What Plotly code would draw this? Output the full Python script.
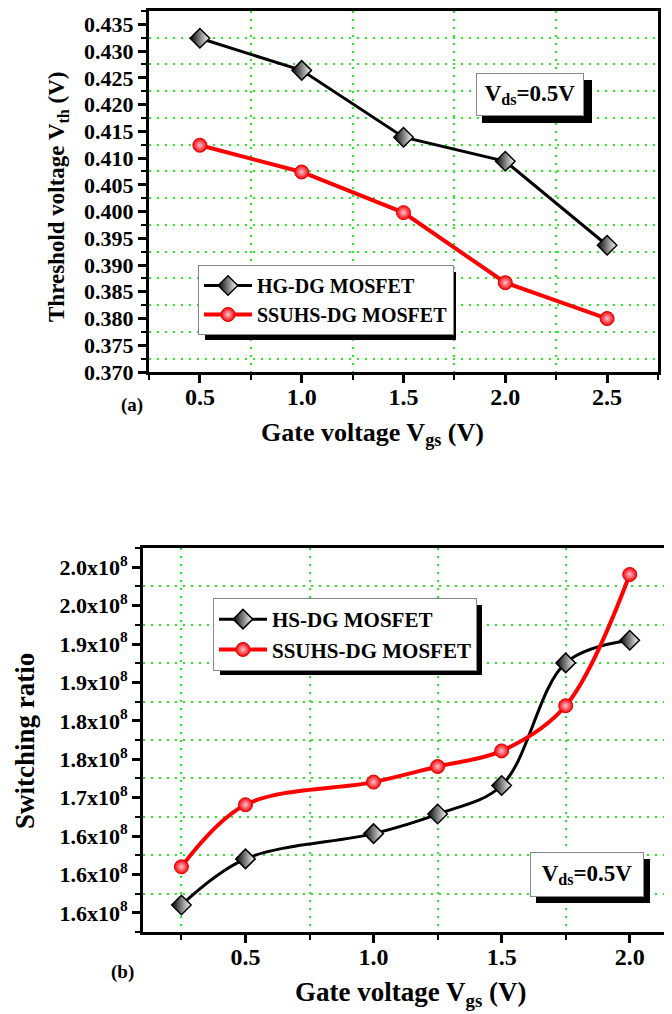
import plotly.graph_objects as go

# ---------------- data ----------------
vgs_a = [0.5, 1.0, 1.5, 2.0, 2.5]
vth_hg = [0.4324, 0.4264, 0.4139, 0.4094, 0.3937]
vth_ssuhs = [0.4124, 0.4074, 0.3998, 0.3867, 0.3800]

vgs_b = [0.25, 0.5, 1.0, 1.25, 1.5, 1.75, 2.0]
sr_hs = [1.5601e8, 1.6202e8, 1.6531e8, 1.6786e8, 1.7158e8, 1.8754e8, 1.9048e8]
sr_ssuhs = [1.6099e8, 1.6907e8, 1.7202e8, 1.7405e8, 1.7608e8, 1.8196e8, 1.9905e8]

yb_tickvals = [1.55e8, 1.60e8, 1.65e8, 1.70e8, 1.75e8, 1.80e8, 1.85e8, 1.90e8, 1.95e8, 2.00e8]
yb_ticktext = ["1.6x10<sup>8</sup>", "1.6x10<sup>8</sup>", "1.6x10<sup>8</sup>", "1.7x10<sup>8</sup>",
               "1.8x10<sup>8</sup>", "1.8x10<sup>8</sup>", "1.9x10<sup>8</sup>", "1.9x10<sup>8</sup>",
               "2.0x10<sup>8</sup>", "2.0x10<sup>8</sup>"]

# page body has an 8px default margin: the figure fills the rest of the window
PAGE_W, PAGE_H, OFF = 672, 1014, 8
W, H = PAGE_W - OFF, PAGE_H - OFF
FONT = "Liberation Serif"


def px(x):
    return (x - OFF) / W


def py(y):
    return 1 - (y - OFF) / H


def fnt(size):
    return dict(size=size, family=FONT, weight="bold", color="black")


diamond = dict(symbol="diamond", size=15, color="black",
               gradient=dict(type="horizontal", color="white"),
               line=dict(color="black", width=1.5))
ball = dict(symbol="circle", size=14, color="red",
            gradient=dict(type="radial", color="#f4c4d4"),
            line=dict(color="#e00000", width=1))

fig = go.Figure()
fig.add_trace(go.Scatter(x=vgs_a, y=vth_hg, name="HG-DG MOSFET", mode="lines+markers",
                         line=dict(color="black", width=3), marker=diamond,
                         xaxis="x", yaxis="y", legend="legend"))
fig.add_trace(go.Scatter(x=vgs_a, y=vth_ssuhs, name="SSUHS-DG MOSFET", mode="lines+markers",
                         line=dict(color="red", width=4), marker=ball,
                         xaxis="x", yaxis="y", legend="legend"))
fig.add_trace(go.Scatter(x=vgs_b, y=sr_hs, name="HS-DG MOSFET", mode="lines+markers",
                         line=dict(color="black", width=3, shape="spline", smoothing=1.0),
                         marker=diamond, xaxis="x2", yaxis="y2", legend="legend2"))
fig.add_trace(go.Scatter(x=vgs_b, y=sr_ssuhs, name="SSUHS-DG MOSFET", mode="lines+markers",
                         line=dict(color="red", width=4, shape="spline", smoothing=1.0),
                         marker=ball, xaxis="x2", yaxis="y2", legend="legend2"))

grid = dict(showgrid=True, gridcolor="#22ee22", griddash="2px,6px", gridwidth=2,
            ticks="outside", ticklen=5, tickwidth=2, tickcolor="black")
common = dict(showline=True, linewidth=3, linecolor="black", ticks="outside", ticklen=8,
              tickwidth=3, tickcolor="black", showgrid=False, zeroline=False, automargin=False)

fig.update_layout(
    width=W, height=H, template="none",
    margin=dict(l=0, r=0, t=0, b=0),
    paper_bgcolor="white", plot_bgcolor="white",
    font=dict(family=FONT, color="black", weight="bold"),
    xaxis=dict(domain=[px(149), px(658)], range=[0.25, 2.75], anchor="y", mirror=True,
               tickmode="linear", tick0=0.5, dtick=0.5, tickformat=".1f", tickfont=fnt(24),
               ticklabelstandoff=-7,
               minor=dict(tickmode="linear", tick0=0.25, dtick=0.5, **grid), **common),
    yaxis=dict(domain=[py(372), py(11)], range=[0.370, 0.4375], anchor="x", mirror=True,
               tickmode="linear", tick0=0.370, dtick=0.005, tickformat=".3f", tickfont=fnt(22),
               minor=dict(tickmode="linear", tick0=0.3725, dtick=0.005, **grid), **common),
    xaxis2=dict(domain=[px(143), 1.0], range=[0.1, 2.165], anchor="y2", mirror=True,
                tickmode="linear", tick0=0.5, dtick=0.5, tickformat=".1f", tickfont=fnt(24),
                ticklabelstandoff=-7,
                minor=dict(tickmode="linear", tick0=0.25, dtick=0.5, **grid), **common),
    yaxis2=dict(domain=[py(932), py(548)], range=[1.525e8, 2.025e8], anchor="x2", mirror=False,
                tickmode="array", tickvals=yb_tickvals, ticktext=yb_ticktext, tickfont=fnt(22),
                minor=dict(tickmode="linear", tick0=1.525e8, dtick=0.05e8, **grid), **common),
    legend=dict(x=px(198), y=py(265), xanchor="left", yanchor="top", bgcolor="white",
                bordercolor="#888888", borderwidth=1, itemwidth=48, tracegroupgap=0,
                font=fnt(20)),
    legend2=dict(x=px(213), y=py(598), xanchor="left", yanchor="top", bgcolor="white",
                 bordercolor="#888888", borderwidth=1, itemwidth=48, tracegroupgap=0,
                 font=fnt(21)),
    showlegend=True,
)

# drop shadows behind legends and text boxes
shadows = [(205, 272, 456, 340), (220, 605, 482, 675), (482, 80, 592, 123), (536, 859, 650, 903)]
for (x0, y0, x1, y1) in shadows:
    fig.add_shape(type="rect", xref="paper", yref="paper", x0=px(x0), x1=px(x1), y0=py(y1), y1=py(y0),
                  fillcolor="black", line=dict(width=0), layer="above")

ann = []
# text boxes
ann.append(dict(text="V<sub>ds</sub>=0.5V", x=px(530), y=py(94.5), xanchor="center", yanchor="middle",
                width=106, height=41, bgcolor="white", bordercolor="#888888", borderwidth=1, borderpad=0,
                font=fnt(23)))
ann.append(dict(text="V<sub>ds</sub>=0.5V", x=px(587), y=py(874.5), xanchor="center", yanchor="middle",
                width=112, height=43, bgcolor="white", bordercolor="#888888", borderwidth=1, borderpad=0,
                font=fnt(23)))
# axis titles
ann.append(dict(text="Threshold voltage V<sub>th</sub> (V)", x=px(58), y=py(197), textangle=-90,
                xanchor="center", yanchor="middle", font=fnt(23)))
ann.append(dict(text="Gate voltage V<sub>gs</sub> (V)", x=px(373), y=py(452), xanchor="center",
                yanchor="bottom", font=fnt(26)))
ann.append(dict(text="(a)", x=px(132), y=py(405), xanchor="center", yanchor="middle", font=fnt(19)))
ann.append(dict(text="Switching ratio", x=px(25), y=py(741), textangle=-90, xanchor="center",
                yanchor="middle", font=fnt(27)))
ann.append(dict(text="Gate voltage V<sub>gs</sub> (V)", x=px(411), y=py(1013), xanchor="center",
                yanchor="bottom", font=fnt(27)))
ann.append(dict(text="(b)", x=px(123), y=py(972), xanchor="center", yanchor="middle", font=fnt(19)))
for a in ann:
    a.update(xref="paper", yref="paper", showarrow=False)
fig.update_layout(annotations=ann)

fig.write_html("out.html")
